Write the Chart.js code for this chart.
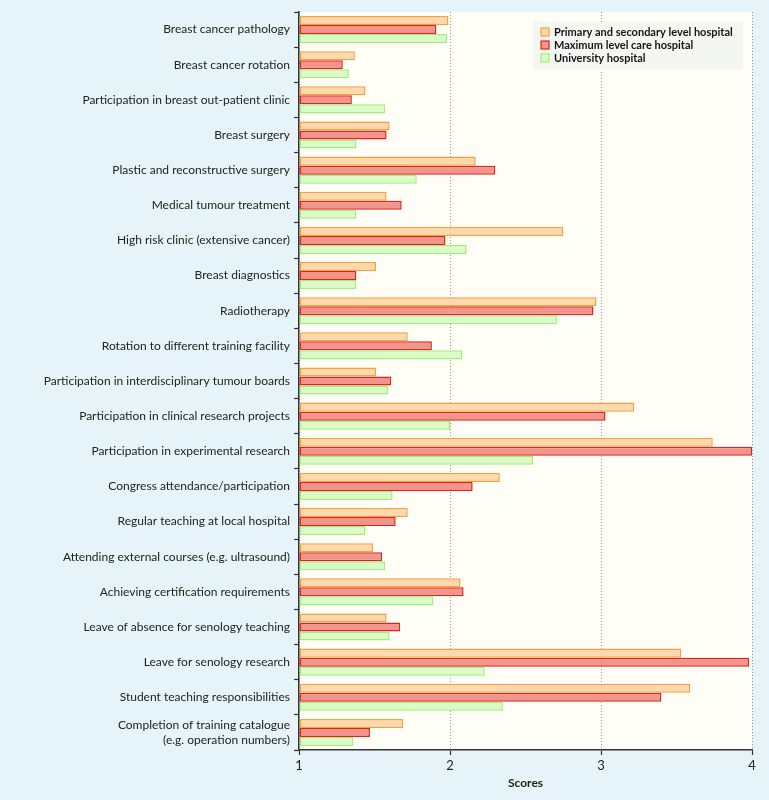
<!DOCTYPE html>
<html><head><meta charset="utf-8">
<script src="https://cdn.jsdelivr.net/npm/chart.js@4/dist/chart.umd.min.js"></script>
<style>html,body{margin:0;padding:0;background:#e6f4fa;} #wrap{width:769px;height:800px;position:relative;}</style>
</head><body><div id="wrap"><canvas id="c"></canvas></div>
<script>
const categories = [
  "Breast cancer pathology",
  "Breast cancer rotation",
  "Participation in breast out-patient clinic",
  "Breast surgery",
  "Plastic and reconstructive surgery",
  "Medical tumour treatment",
  "High risk clinic (extensive cancer)",
  "Breast diagnostics",
  "Radiotherapy",
  "Rotation to different training facility",
  "Participation in interdisciplinary tumour boards",
  "Participation in clinical research projects",
  "Participation in experimental research",
  "Congress attendance/participation",
  "Regular teaching at local hospital",
  "Attending external courses (e.g. ultrasound)",
  "Achieving certification requirements",
  "Leave of absence for senology teaching",
  "Leave for senology research",
  "Student teaching responsibilities",
  ["Completion of training catalogue", "(e.g. operation numbers)"]
];
const seriesNames = ["Primary and secondary level hospital", "Maximum level care hospital", "University hospital"];
const primaryScores = [1.99, 1.37, 1.44, 1.60, 2.17, 1.58, 2.75, 1.51, 2.97, 1.72, 1.51, 3.22, 3.74, 2.33, 1.72, 1.49, 2.07, 1.58, 3.53, 3.59, 1.69];
const maximumScores = [1.91, 1.29, 1.35, 1.58, 2.30, 1.68, 1.97, 1.38, 2.95, 1.88, 1.61, 3.03, 4.00, 2.15, 1.64, 1.55, 2.09, 1.67, 3.98, 3.40, 1.47];
const universityScores = [1.98, 1.33, 1.57, 1.38, 1.78, 1.38, 2.11, 1.38, 2.71, 2.08, 1.59, 2.00, 2.55, 1.62, 1.44, 1.57, 1.89, 1.60, 2.23, 2.35, 1.36];
const xTicks = [1, 2, 3, 4];
const axisTitle = "Scores";

const styles = [
  {bg: "#fdd9ae", bd: "#f7a13e"},
  {bg: "#f2958c", bd: "#e0231f"},
  {bg: "#dafcc8", bd: "#a3ee7a"}
];
const seriesValues = [primaryScores, maximumScores, universityScores];

const bgPlugin = {
  id: "bg",
  beforeDraw(chart) {
    const {ctx, chartArea: a, width, height} = chart;
    ctx.save();
    ctx.fillStyle = "#e6f4fa";
    ctx.fillRect(0, 0, width, height);
    ctx.fillStyle = "#fefef6";
    ctx.fillRect(a.left, a.top, a.right - a.left, a.bottom - a.top);
    ctx.restore();
  }
};
const legendPlugin = {
  id: "lg",
  afterDraw(chart) {
    const {ctx, chartArea: a} = chart;
    const x = a.right - 219, y = a.top + 10;
    ctx.save();
    ctx.fillStyle = "#f3f6f1";
    ctx.fillRect(x, y, 210, 48);
    ctx.font = "bold 11px Lato";
    ctx.textBaseline = "middle";
    chart.data.datasets.forEach((d, i) => {
      const yy = y + 10 + i * 13;
      ctx.fillStyle = d.backgroundColor;
      ctx.fillRect(x + 8, yy - 4, 8, 8);
      ctx.strokeStyle = d.borderColor;
      ctx.lineWidth = 1.2;
      ctx.strokeRect(x + 8, yy - 4, 8, 8);
      ctx.fillStyle = "#151515";
      ctx.fillText(d.label, x + 21, yy);
    });
    ctx.restore();
  }
};

new Chart(document.getElementById("c"), {
  type: "bar",
  data: {
    labels: categories,
    datasets: seriesValues.map((vals, i) => ({
      label: seriesNames[i],
      data: vals,
      base: 1,
      backgroundColor: styles[i].bg,
      borderColor: styles[i].bd,
      borderWidth: 1.5,
      borderSkipped: false,
      barPercentage: 1.0,
      categoryPercentage: 0.77
    }))
  },
  options: {
    indexAxis: "y",
    responsive: true,
    maintainAspectRatio: false,
    animation: false,
    layout: {padding: {top: 12, right: 17, left: 0, bottom: 10}},
    plugins: {legend: {display: false}, tooltip: {enabled: false}},
    scales: {
      x: {
        type: "linear",
        min: 1, max: 4,
        afterBuildTicks(scale) { scale.ticks = xTicks.map(v => ({value: v})); },
        ticks: {color: "#222", font: {family: "Lato", size: 13}, padding: 3},
        grid: {color: "#999", lineWidth: 1, drawTicks: true, tickLength: 5, tickColor: "#333", tickWidth: 1.2, tickBorderDash: []},
        border: {display: true, color: "#333", width: 1.5, dash: [1, 2]},
        title: {display: true, text: axisTitle, color: "#222", font: {family: "Lato", size: 12, weight: "bold"}, padding: {top: 2, bottom: 0}},
        afterFit(scale) { scale.height = 40; scale.paddingLeft = 0; scale.paddingRight = 0; }
      },
      y: {
        grid: {drawOnChartArea: false, drawTicks: true, tickLength: 5, tickColor: "#333", tickWidth: 1.2, offset: true},
        border: {display: true, color: "#333", width: 1.5},
        ticks: {color: "#222", font: {family: "Lato", size: 12, lineHeight: 1.3}, padding: 4, autoSkip: false},
        afterFit(scale) { scale.width = 299; scale.paddingTop = 0; scale.paddingBottom = 0; }
      }
    }
  },
  plugins: [bgPlugin, legendPlugin]
});
</script>
</body></html>
